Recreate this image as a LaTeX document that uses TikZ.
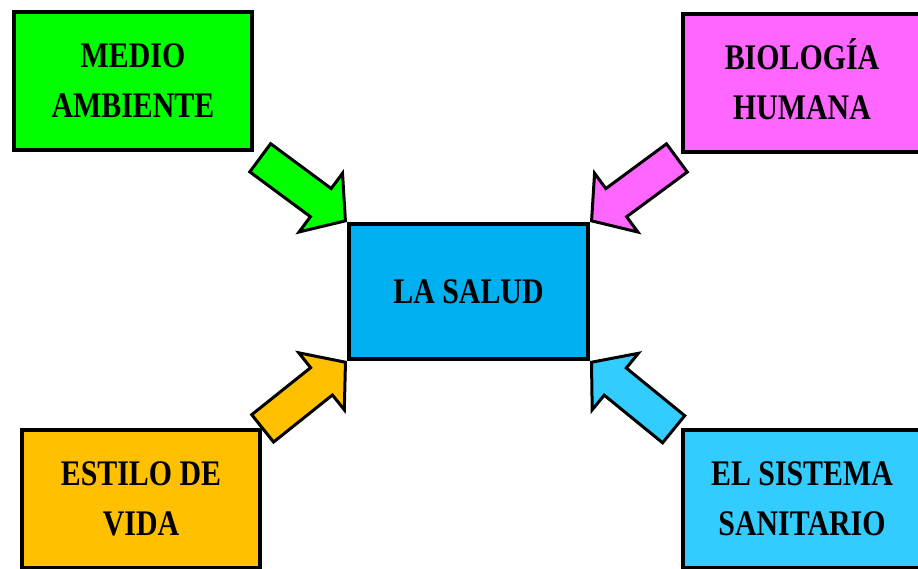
\documentclass[tikz,border=0pt]{standalone}
\usepackage{fontspec}
\newfontfamily\boxfont{Liberation Serif}[FakeStretch=0.83]
\usetikzlibrary{shapes.arrows, calc}
\definecolor{ambgreen}{RGB}{0, 255, 0}
\definecolor{biopink}{RGB}{255, 102, 255}
\definecolor{saludblue}{RGB}{0, 176, 240}
\definecolor{vidaorange}{RGB}{255, 192, 0}
\definecolor{sistcyan}{RGB}{51, 204, 255}

\tikzset{
  factor/.style={draw=black, line width=4pt, minimum width=238pt, minimum height=138pt,
    align=center, inner sep=0pt, font=\boxfont\bfseries\fontsize{36}{50}\selectfont},
  bigarrow/.style={single arrow, draw=black, line width=3pt, minimum height=106pt,
    inner xsep=0pt, inner ysep=16pt, single arrow head extend=19pt,
    single arrow tip angle=100, anchor=tip}
}

\begin{document}
\begin{tikzpicture}[x=1pt, y=-1pt]
  \useasboundingbox (0,0) rectangle (918,568);
  \clip (0,0) rectangle (918,568);

  % Factor boxes
  \node[factor, fill=ambgreen] (medio) at (133, 81) {MEDIO\\AMBIENTE};
  \node[factor, fill=biopink] (biologia) at (802, 83) {BIOLOG\smash{Í}A\\HUMANA};
  \node[factor, fill=vidaorange] (estilo) at (141, 499) {ESTILO DE\\VIDA};
  \node[factor, fill=sistcyan] (sistema) at (802, 499) {EL SISTEMA\\SANITARIO};

  % Centre
  \node[factor, fill=saludblue, minimum width=239pt, minimum height=135pt] (salud) at (468.5, 291.5) {LA SALUD};

  % Block arrows
  \node[bigarrow, fill=ambgreen, rotate=-36.5] (arrmedio) at (salud.north west) {};
  \node[bigarrow, fill=biopink, rotate=-143.6] (arrbiologia) at (salud.north east) {};
  \node[bigarrow, fill=vidaorange, rotate=38.6] (arrestilo) at (salud.south west) {};
  \node[bigarrow, fill=sistcyan, rotate=140.8] (arrsistema) at (salud.south east) {};
\end{tikzpicture}
\end{document}
